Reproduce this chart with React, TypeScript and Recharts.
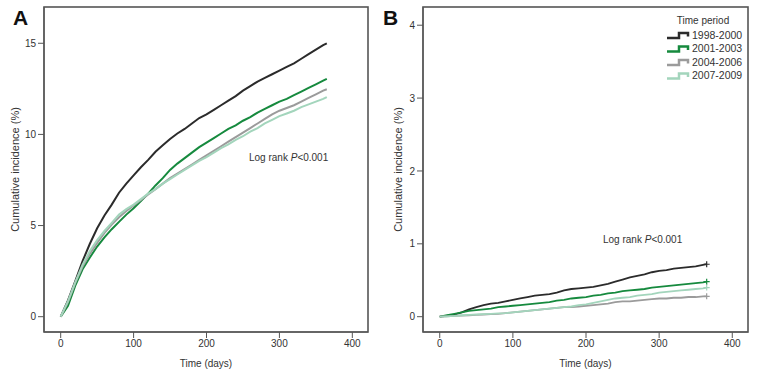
import { LineChart, Line, XAxis, YAxis, Customized } from 'recharts';

// days since start, sampled off the curves
const days = [0, 10, 20, 30, 40, 50, 60, 70, 80, 90, 100, 110, 120, 130, 140, 150, 160, 170, 180, 190, 200, 210, 220, 230, 240, 250, 260, 270, 280, 290, 300, 310, 320, 330, 340, 350, 360, 365];

// panel A
const a1998 = [0, 0.9, 1.95, 3.05, 4.0, 4.85, 5.55, 6.15, 6.8, 7.3, 7.75, 8.2, 8.6, 9.05, 9.4, 9.75, 10.05, 10.3, 10.6, 10.9, 11.1, 11.35, 11.6, 11.85, 12.1, 12.4, 12.65, 12.9, 13.1, 13.3, 13.5, 13.7, 13.9, 14.15, 14.4, 14.65, 14.9, 15.0];
const a2001 = [0, 0.6, 1.7, 2.6, 3.25, 3.85, 4.35, 4.8, 5.2, 5.6, 5.95, 6.35, 6.75, 7.2, 7.6, 8.05, 8.4, 8.7, 9.0, 9.3, 9.55, 9.8, 10.05, 10.3, 10.5, 10.75, 10.95, 11.2, 11.4, 11.6, 11.8, 11.95, 12.15, 12.35, 12.55, 12.75, 12.95, 13.05];
const a2004 = [0, 0.8, 1.85, 2.75, 3.45, 4.05, 4.6, 5.05, 5.45, 5.8, 6.1, 6.4, 6.7, 7.0, 7.3, 7.6, 7.85, 8.1, 8.35, 8.6, 8.85, 9.1, 9.35, 9.6, 9.85, 10.1, 10.35, 10.6, 10.85, 11.1, 11.3, 11.45, 11.6, 11.8, 12.0, 12.2, 12.4, 12.48];
const a2007 = [0, 0.85, 1.9, 2.85, 3.6, 4.2, 4.7, 5.15, 5.6, 5.9, 6.15, 6.45, 6.75, 7.0, 7.3, 7.55, 7.8, 8.05, 8.3, 8.55, 8.75, 9.0, 9.25, 9.45, 9.7, 9.9, 10.15, 10.35, 10.6, 10.8, 11.0, 11.15, 11.3, 11.5, 11.65, 11.8, 11.95, 12.05];

// panel B
const b1998 = [0, 0.01, 0.03, 0.06, 0.1, 0.13, 0.16, 0.18, 0.19, 0.21, 0.23, 0.25, 0.27, 0.29, 0.3, 0.31, 0.33, 0.36, 0.38, 0.39, 0.4, 0.41, 0.43, 0.45, 0.48, 0.51, 0.54, 0.56, 0.58, 0.61, 0.63, 0.64, 0.66, 0.67, 0.68, 0.69, 0.71, 0.72];
const b2001 = [0, 0.02, 0.04, 0.06, 0.08, 0.09, 0.1, 0.11, 0.13, 0.14, 0.15, 0.16, 0.17, 0.18, 0.19, 0.2, 0.22, 0.23, 0.25, 0.26, 0.27, 0.29, 0.3, 0.32, 0.33, 0.35, 0.36, 0.37, 0.38, 0.4, 0.41, 0.42, 0.43, 0.44, 0.45, 0.46, 0.47, 0.48];
const b2004 = [0, 0.005, 0.01, 0.015, 0.02, 0.025, 0.03, 0.035, 0.04, 0.05, 0.06, 0.07, 0.08, 0.09, 0.1, 0.11, 0.12, 0.13, 0.13, 0.14, 0.15, 0.16, 0.17, 0.18, 0.2, 0.21, 0.21, 0.22, 0.23, 0.24, 0.25, 0.25, 0.26, 0.26, 0.27, 0.27, 0.28, 0.28];
const b2007 = [0, 0.005, 0.01, 0.02, 0.025, 0.03, 0.035, 0.04, 0.045, 0.05, 0.06, 0.07, 0.08, 0.09, 0.1, 0.11, 0.12, 0.13, 0.14, 0.16, 0.17, 0.19, 0.21, 0.23, 0.25, 0.26, 0.27, 0.29, 0.3, 0.31, 0.33, 0.34, 0.35, 0.36, 0.37, 0.38, 0.39, 0.4];

const periods = ['1998-2000', '2001-2003', '2004-2006', '2007-2009'];
const keys = ['p1998', 'p2001', 'p2004', 'p2007'];
const colors = ['#2b2b2b', '#168a3e', '#9b9b9b', '#a3d5bc'];

const xTicks = [0, 100, 200, 300, 400];
const aTicks = [0, 5, 10, 15];
const bTicks = [0, 1, 2, 3, 4];
const xDomain = [-22.9, 421.5];

const dataA = days.map((t, i) => ({ t, p1998: a1998[i], p2001: a2001[i], p2004: a2004[i], p2007: a2007[i] }));
const dataB = days.map((t, i) => ({ t, p1998: b1998[i], p2001: b2001[i], p2004: b2004[i], p2007: b2007[i] }));

const FONT = 'Arial, "Liberation Sans", sans-serif';
const AXIS = '#555555';
const TEXT = '#333';

// layout of each panel
const W = 379;
const H = 376;
const TOP = 7;
const Y_W = 44;
const X_H = 44;
const RIGHT_A = 11;
const RIGHT_B = 10;

function LegendBox() {
    return (
        <g fontFamily={FONT} fontSize={10.5} fill={TEXT}>
            <text x={324} y={23.5} textAnchor="middle" fontSize={10}>Time period</text>
            {periods.map((p, i) => {
                const y = 35 + i * 13.5;
                return (
                    <g key={p}>
                        <path d={`M288,${y + 3} H300 V${y - 2} H309 V${y + 1.5}`} fill="none" stroke={colors[i]} strokeWidth={2.5} />
                        <text x={313} y={y + 3.8}>{p}</text>
                    </g>
                );
            })}
        </g>
    );
}

function Panel({ data, letter, letterX, yDomain, yTicks, labelOffset, rankX, rankY, marks, legend, right, lineWidth }: any) {
    const last = days.length - 1;
    return (
        <LineChart
            width={W}
            height={H}
            data={data}
            margin={{ top: TOP, right, left: 0, bottom: 0 }}
            style={{ fontFamily: FONT }}
        >
            <XAxis
                dataKey="t"
                type="number"
                domain={xDomain}
                ticks={xTicks}
                height={X_H}
                tickSize={6}
                stroke={AXIS}
                tick={{ fill: TEXT, fontSize: 10 }}
                label={{ value: 'Time (days)', position: 'insideBottom', offset: 9, style: { fontSize: 10, fill: TEXT } }}
            />
            <YAxis
                type="number"
                domain={yDomain}
                ticks={yTicks}
                width={Y_W}
                tickSize={6}
                stroke={AXIS}
                tick={{ fill: TEXT, fontSize: 10 }}
                label={{ value: 'Cumulative incidence (%)', angle: -90, position: 'insideLeft', offset: labelOffset, style: { textAnchor: 'middle', fontSize: 11, fill: TEXT } }}
            />
            {keys.map((k, i) => (
                <Line
                    key={k}
                    dataKey={k}
                    name={periods[i]}
                    type="linear"
                    stroke={colors[i]}
                    strokeWidth={lineWidth}
                    isAnimationActive={false}
                    dot={(p: any) =>
                        marks && p.index === last ? (
                            <path key={`m-${k}-${p.index}`} d={`M${p.cx - 3},${p.cy}h6M${p.cx},${p.cy - 3}v6`} stroke={colors[i]} strokeWidth={1.2} />
                        ) : (
                            <g key={`m-${k}-${p.index}`} />
                        )
                    }
                    activeDot={false}
                />
            ))}
            <Customized
                component={() => (
                    <g fontFamily={FONT}>
                        <text x={letterX} y={25} fontSize={21} fontWeight="bold" fill="#111">{letter}</text>
                        <text x={rankX} y={rankY} fontSize={10} fill={TEXT}>
                            Log rank <tspan fontStyle="italic">P</tspan>{'<0.001'}
                        </text>
                        {legend ? <LegendBox /> : null}
                    </g>
                )}
            />
        </LineChart>
    );
}

export default function App() {
    return (
        <div style={{ position: 'absolute', left: 0, top: 0, width: 758, height: 376, background: '#fff' }}>
            <div style={{ position: 'absolute', left: 0, top: 0 }}>
                <Panel data={dataA} letter="A" letterX={13} yDomain={[-0.84, 16.99]} yTicks={aTicks} labelOffset={15} rankX={249} rankY={160.5} marks={false} legend={false} right={RIGHT_A} lineWidth={2} />
            </div>
            <div style={{ position: 'absolute', left: W, top: 0 }}>
                <Panel data={dataB} letter="B" letterX={4} yDomain={[-0.21, 4.25]} yTicks={bTicks} labelOffset={19} rankX={224} rankY={242.5} marks={true} legend={true} right={RIGHT_B} lineWidth={1.8} />
            </div>
            {/* frames round both plot areas */}
            <svg style={{ position: 'absolute', left: 0, top: 0, pointerEvents: 'none' }} width={758} height={376}>
                <rect x={Y_W} y={TOP} width={W - Y_W - RIGHT_A} height={H - TOP - X_H} fill="none" stroke={AXIS} strokeWidth={1.6} />
                <rect x={W + Y_W} y={TOP} width={W - Y_W - RIGHT_B} height={H - TOP - X_H} fill="none" stroke={AXIS} strokeWidth={1.6} />
            </svg>
        </div>
    );
}
